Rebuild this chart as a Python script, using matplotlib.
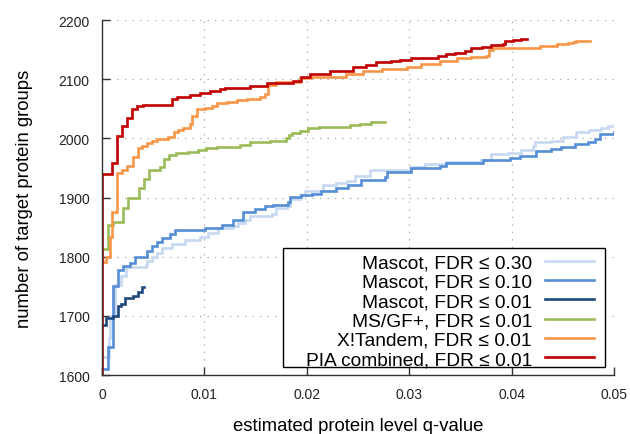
import matplotlib
matplotlib.use("Agg")
import matplotlib.pyplot as plt
from matplotlib.patches import Rectangle

plt.rcParams['font.family'] = ['Liberation Sans', 'DejaVu Sans']

# q-value thresholds (step positions) and cumulative counts of target protein groups
mascot30_q = [0, 0.00064, 0.00083, 0.00127, 0.00185, 0.00234, 0.00429, 0.00444, 0.00488, 0.00537,
              0.00585, 0.00683, 0.00810, 0.00956, 0.01037, 0.01134, 0.01281, 0.01329, 0.01395, 0.01444,
              0.01656, 0.01704, 0.01802, 0.01834, 0.01932, 0.01981, 0.0216, 0.0229, 0.02388, 0.02468,
              0.02615, 0.03005, 0.03151, 0.03363, 0.03704, 0.03802, 0.03963, 0.04094, 0.04207, 0.04224,
              0.04387, 0.04500, 0.0463, 0.0476, 0.04874, 0.04938, 0.05]
mascot30_n = [1631, 1662, 1700, 1752, 1768, 1782, 1786, 1793, 1799, 1806,
              1815, 1822, 1828, 1833, 1840, 1848, 1852, 1857, 1862, 1869,
              1872, 1882, 1886, 1898, 1904, 1911, 1921, 1924, 1928, 1937,
              1947, 1951, 1956, 1960, 1964, 1973, 1976, 1980, 1987, 1993,
              1996, 2003, 2011, 2014, 2017, 2021, 2022]

mascot10_q = [0, 0.00061, 0.0011, 0.00159, 0.00208, 0.00273, 0.00322, 0.00436, 0.00485, 0.00534,
              0.00583, 0.00663, 0.00712, 0.01005, 0.01168, 0.01281, 0.01378, 0.01493, 0.0159, 0.01671,
              0.01817, 0.01834, 0.01948, 0.02046, 0.02143, 0.0229, 0.02403, 0.02534, 0.02761, 0.02783,
              0.03021, 0.03298, 0.03363, 0.0372, 0.0398, 0.04078, 0.04241, 0.04387, 0.04485, 0.04615,
              0.04745, 0.0481, 0.04859, 0.05]
mascot10_n = [1610, 1647, 1751, 1778, 1785, 1789, 1799, 1810, 1818, 1824,
              1831, 1838, 1845, 1849, 1853, 1862, 1876, 1880, 1885, 1888,
              1892, 1901, 1904, 1906, 1911, 1916, 1921, 1930, 1935, 1943,
              1950, 1954, 1959, 1963, 1967, 1970, 1978, 1982, 1986, 1990,
              1994, 1999, 2007, 2010]

mascot01_q = [0, 0.00039, 0.00107, 0.00156, 0.00185, 0.00224, 0.00305, 0.00354, 0.00395, 0.00413]
mascot01_n = [1684, 1697, 1700, 1717, 1720, 1730, 1734, 1740, 1748, 1748]

msgf_q = [0, 0.00054, 0.00107, 0.00208, 0.00257, 0.00361, 0.00408, 0.00459, 0.00566, 0.0061,
          0.00659, 0.00722, 0.00842, 0.0094, 0.01015, 0.01122, 0.01346, 0.01444, 0.01639, 0.01795,
          0.01824, 0.01854, 0.01932, 0.02013, 0.02117, 0.0242, 0.02517, 0.02631, 0.02766]
msgf_n = [1813, 1853, 1859, 1882, 1899, 1916, 1932, 1947, 1951, 1965,
          1972, 1975, 1977, 1980, 1983, 1986, 1989, 1993, 1996, 2000,
          2006, 2009, 2013, 2017, 2020, 2022, 2025, 2027, 2027]

xtandem_q = [0, 0.00039, 0.00078, 0.00102, 0.00143, 0.00192, 0.00249, 0.00303, 0.00351, 0.00395,
             0.00444, 0.00493, 0.00541, 0.00644, 0.00702, 0.00744, 0.00793, 0.00859, 0.00875, 0.00924,
             0.01005, 0.01073, 0.01119, 0.01217, 0.01314, 0.01412, 0.01541, 0.0159, 0.01622, 0.01704,
             0.01932, 0.02039, 0.02387, 0.02549, 0.02732, 0.02976, 0.03112, 0.03298, 0.03463, 0.03607,
             0.03746, 0.03776, 0.03818, 0.04276, 0.04442, 0.04549, 0.04598, 0.04627, 0.04764]
xtandem_n = [1791, 1799, 1833, 1875, 1941, 1947, 1953, 1968, 1983, 1987,
             1992, 1996, 1999, 2003, 2010, 2014, 2017, 2024, 2038, 2049,
             2052, 2055, 2059, 2061, 2064, 2066, 2070, 2075, 2090, 2095,
             2102, 2104, 2108, 2114, 2118, 2121, 2126, 2131, 2135, 2137,
             2140, 2150, 2153, 2156, 2159, 2161, 2163, 2164, 2164]

pia_q = [0, 0, 0.00095, 0.00143, 0.00192, 0.00241, 0.0029, 0.00338, 0.00403, 0.0068,
         0.00729, 0.00859, 0.00956, 0.01054, 0.01151, 0.012, 0.01444, 0.01607, 0.01704, 0.01863,
         0.01948, 0.02029, 0.02224, 0.02452, 0.02582, 0.02673, 0.02826, 0.02907, 0.03021, 0.03086,
         0.03281, 0.03363, 0.03444, 0.03541, 0.03607, 0.03714, 0.03802, 0.03915, 0.03932, 0.04013,
         0.04095, 0.04151]
pia_n = [1600, 1940, 1958, 2004, 2021, 2035, 2049, 2054, 2056, 2066,
         2070, 2073, 2076, 2080, 2083, 2085, 2089, 2093, 2094, 2097,
         2103, 2108, 2113, 2120, 2124, 2129, 2131, 2133, 2135, 2136,
         2139, 2143, 2145, 2147, 2152, 2154, 2157, 2159, 2164, 2166,
         2168, 2168]

series = [
    ("Mascot, FDR \u2264 0.30", mascot30_q, mascot30_n, "#c6d9f1"),
    ("Mascot, FDR \u2264 0.10", mascot10_q, mascot10_n, "#558ed5"),
    ("Mascot, FDR \u2264 0.01", mascot01_q, mascot01_n, "#1f497d"),
    ("MS/GF+, FDR \u2264 0.01", msgf_q, msgf_n, "#9bbb59"),
    ("X!Tandem, FDR \u2264 0.01", xtandem_q, xtandem_n, "#f79646"),
    ("PIA combined, FDR \u2264 0.01", pia_q, pia_n, "#c00000"),
]

x_ticks = [0, 0.01, 0.02, 0.03, 0.04, 0.05]
x_ticklabels = ["0", "0.01", "0.02", "0.03", "0.04", "0.05"]
y_ticks = [1600, 1700, 1800, 1900, 2000, 2100, 2200]

W, H = 630, 435
fig = plt.figure(figsize=(W / 100, H / 100), dpi=100)
ax = fig.add_axes([102 / W, 1 - 376 / H, 512 / W, 355 / H])

for label, q, n, color in series:
    ax.plot(q, n, drawstyle="steps-post", color=color, lw=1.9, label=label,
            solid_joinstyle="miter")

ax.set_xlim(0, 0.05)
ax.set_ylim(1600, 2200)
ax.set_xticks(x_ticks)
ax.set_xticklabels(x_ticklabels)
ax.set_yticks(y_ticks)

ax.grid(True, color="#a6a6a6", linestyle=(0, (1, 5)), linewidth=0.9)
ax.set_axisbelow(True)

for side in ("top", "right"):
    ax.spines[side].set_visible(False)
for side in ("left", "bottom"):
    ax.spines[side].set_color("#333333")
    ax.spines[side].set_linewidth(1.0)

ax.tick_params(axis="both", direction="in", length=5.5, width=1.0, color="#333333",
               labelsize=10, labelcolor="#222222")
ax.tick_params(axis="y", pad=9)
ax.tick_params(axis="x", pad=9)

ax.set_xlabel("estimated protein level q-value", fontsize=13.3, labelpad=11)
ax.set_ylabel("number of target protein groups", fontsize=13.3, labelpad=18)

# legend box: white panel with a thin black border, entries right-aligned inside it
box = Rectangle((283 / W, 1 - 367.7 / H), 322 / W, 118.4 / H, transform=fig.transFigure,
                facecolor="white", edgecolor="black", linewidth=1.0, zorder=4.9, clip_on=False)
ax.add_patch(box)

leg = ax.legend(loc="lower right", bbox_to_anchor=(594 / W, 1 - 369 / H),
                bbox_transform=fig.transFigure, borderaxespad=0, borderpad=0,
                markerfirst=False, frameon=False,
                fontsize=13.8, handlelength=2.56, handletextpad=0.68, labelspacing=0.1)
leg.set_zorder(5)

fig.savefig("out.png", dpi=100)
